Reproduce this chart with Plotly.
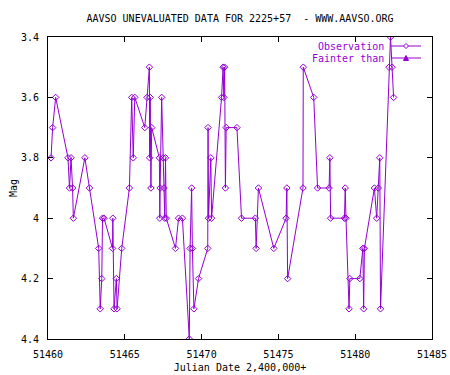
import plotly.graph_objects as go

jd = [51460.2, 51460.3, 51460.5, 51461.3, 51461.4, 51461.5, 51461.6, 51461.65,
      51462.4, 51462.7, 51463.3, 51463.4, 51463.5, 51463.55, 51463.65,
      51464.2, 51464.22, 51464.3, 51464.45, 51464.5, 51464.8, 51465.3,
      51465.45, 51465.55, 51465.65, 51466.3, 51466.45, 51466.6, 51466.62, 51466.65,
      51466.7, 51466.75, 51467.25, 51467.28, 51467.3, 51467.4, 51467.5, 51467.55,
      51467.6, 51467.65, 51467.7, 51468.3, 51468.5, 51468.75, 51469.2, 51469.25,
      51469.35, 51469.4, 51469.5, 51469.8, 51470.4, 51470.42, 51470.45, 51470.6,
      51470.65, 51471.3, 51471.4, 51471.45, 51471.5, 51471.55, 51471.6, 51472.3,
      51472.6, 51473.5, 51473.55, 51473.7, 51474.7, 51475.5, 51475.55, 51475.6,
      51476.6, 51476.62, 51477.3, 51477.55, 51478.3, 51478.35, 51478.4, 51479.3,
      51479.35, 51479.4, 51479.6, 51479.65, 51480.3, 51480.5, 51480.55, 51480.6,
      51481.25, 51481.4, 51481.5, 51481.6, 51481.65, 51482.2, 51482.3, 51482.4,
      51482.5]
mag = [3.8, 3.7, 3.6, 3.8, 3.9, 3.8, 3.9, 4.0,
       3.8, 3.9, 4.1, 4.3, 4.2, 4.0, 4.0,
       4.1, 4.0, 4.3, 4.2, 4.3, 4.1, 3.9,
       3.6, 3.8, 3.6, 3.7, 3.6, 3.5, 3.8, 3.6,
       3.9, 3.7, 3.8, 4.0, 3.9, 3.6, 3.8, 3.9,
       4.0, 3.8, 4.0, 4.1, 4.0, 4.0, 4.4, 4.1,
       3.9, 4.1, 4.3, 4.2, 4.1, 3.7, 4.0, 3.8,
       4.0, 3.6, 3.5, 3.6, 3.5, 3.9, 3.7, 3.7,
       4.0, 4.0, 4.1, 3.9, 4.1, 4.0, 3.9, 4.2,
       3.9, 3.5, 3.6, 3.9, 3.9, 3.8, 4.0, 4.0,
       3.9, 4.0, 4.3, 4.2, 4.2, 4.1, 4.3, 4.1,
       3.9, 4.0, 3.9, 3.8, 4.3, 3.5, 3.4, 3.5,
       3.6]
fainter_jd = []
fainter_mag = []

series_names = ["Observation", "Fainter than"]
x_ticks = [51460, 51465, 51470, 51475, 51480, 51485]
y_ticks = [3.4, 3.6, 3.8, 4.0, 4.2, 4.4]
y_tick_labels = ["3.4", "3.6", "3.8", "4", "4.2", "4.4"]

purple = "#9400d3"
font = "DejaVu Sans Mono"

fig = go.Figure()
fig.add_trace(go.Scatter(x=jd, y=mag, mode="lines+markers", name=series_names[0],
                         line=dict(color=purple, width=1), showlegend=False,
                         marker=dict(symbol="diamond-open", size=5, color=purple,
                                     line=dict(width=1, color=purple))))
fig.add_trace(go.Scatter(x=fainter_jd, y=fainter_mag, mode="lines+markers", name=series_names[1],
                         line=dict(color=purple, width=1), showlegend=False,
                         marker=dict(symbol="triangle-up", size=5, color=purple)))

# manual gnuplot-style key (text left, sample right)
PW, PH = 384.0, 302.0
def px(xp):
    return (xp - 48) / PW
def py(yp):
    return (339 - yp) / PH

annotations = []
shapes = []
for i, name in enumerate(series_names):
    yy = 46 + 12 * i
    annotations.append(dict(text=name, xref="paper", yref="paper", x=px(386), y=py(yy),
                            xanchor="right", yanchor="middle", showarrow=False,
                            font=dict(family=font, size=10, color=purple)))
    shapes.append(dict(type="line", xref="paper", yref="paper", x0=px(391), x1=px(421),
                       y0=py(yy), y1=py(yy), line=dict(color=purple, width=1)))
    cx, cy = px(406), py(yy)
    dx, dy = 2.5 / PW, 2.5 / PH
    if i == 0:
        path = f"M {cx-dx},{cy} L {cx},{cy+dy} L {cx+dx},{cy} L {cx},{cy-dy} Z"
        shapes.append(dict(type="path", xref="paper", yref="paper", path=path,
                           line=dict(color=purple, width=1), fillcolor="white"))
    else:
        path = f"M {cx-dx},{cy-dy} L {cx+dx},{cy-dy} L {cx},{cy+dy} Z"
        shapes.append(dict(type="path", xref="paper", yref="paper", path=path,
                           line=dict(color=purple, width=1), fillcolor=purple))

fig.update_layout(
    width=450, height=375,
    margin=dict(l=48, r=18, t=37, b=36, autoexpand=False),
    paper_bgcolor="white", plot_bgcolor="white",
    font=dict(family=font, size=10, color="black"),
    title=dict(text="AAVSO UNEVALUATED DATA FOR 2225+57  - WWW.AAVSO.ORG",
               x=0.5, xanchor="center", xref="paper", y=1 - 18 / 375, yref="container",
               yanchor="middle", automargin=False,
               font=dict(family=font, size=10, color="black")),
    showlegend=False,
    annotations=annotations,
    shapes=shapes,
    xaxis=dict(range=[51460, 51485], tickvals=x_ticks, ticktext=[str(v) for v in x_ticks],
               showgrid=False, zeroline=False, showline=True, linecolor="black",
               linewidth=1, mirror="ticks", ticks="inside", ticklen=5, tickcolor="black",
               ticklabelstandoff=6, automargin=False,
               title=dict(text="Julian Date 2,400,000+", standoff=4,
                          font=dict(family=font, size=10))),
    yaxis=dict(range=[4.4, 3.4], tickvals=y_ticks, ticktext=y_tick_labels,
               showgrid=False, zeroline=False, showline=True, linecolor="black",
               linewidth=1, mirror="ticks", ticks="inside", ticklen=5, tickcolor="black",
               ticklabelstandoff=6, automargin=False,
               title=dict(text="Mag", standoff=1, font=dict(family=font, size=10))),
)

fig.write_html("out.html", config={"displayModeBar": False},
               post_script="document.body.style.margin='0';document.body.style.overflow='hidden';")
